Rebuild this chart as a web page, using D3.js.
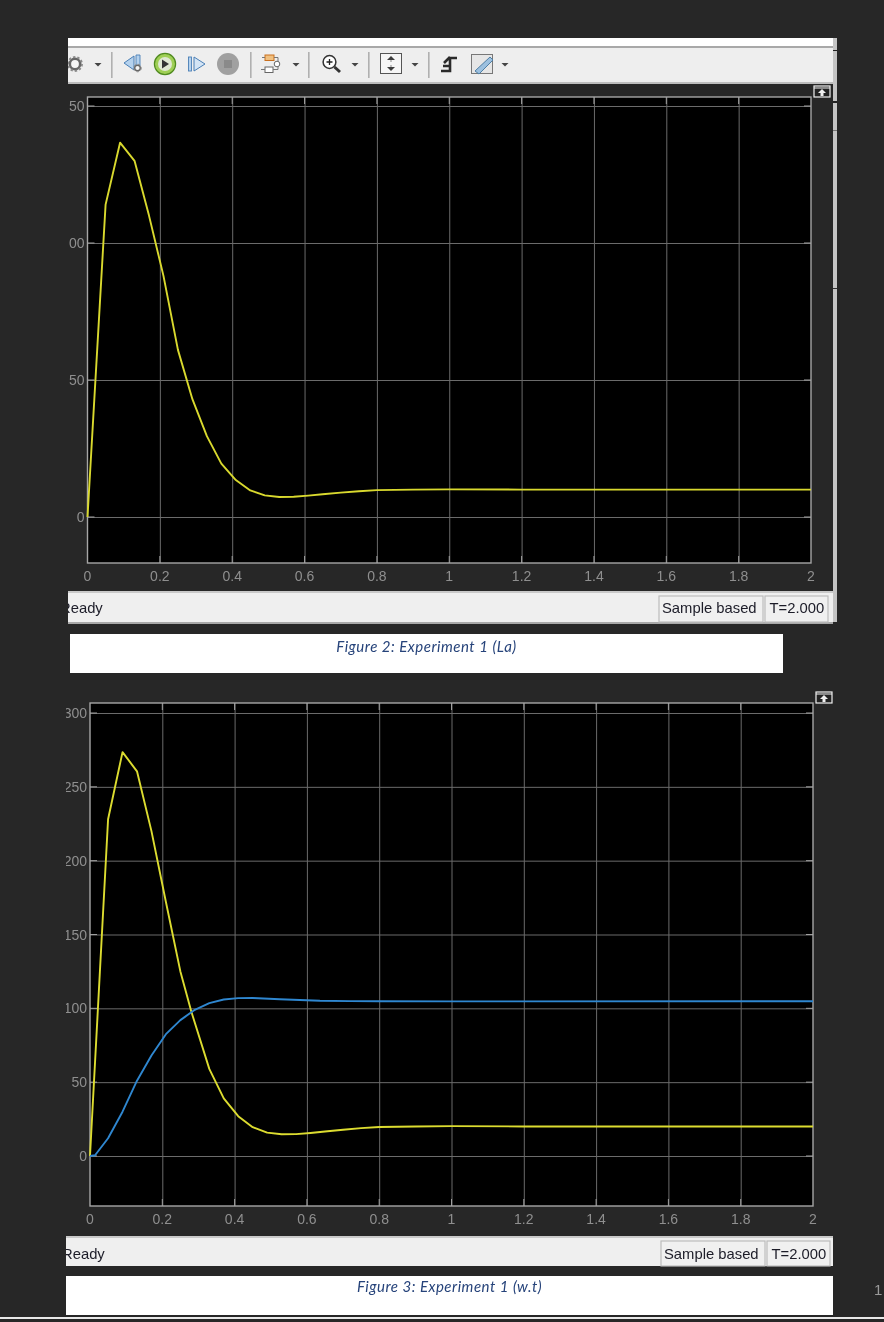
<!DOCTYPE html>
<html><head><meta charset="utf-8">
<script src="https://cdn.jsdelivr.net/npm/d3@7"></script>
<style>html,body{margin:0;padding:0;background:#272727;overflow:hidden}svg{display:block;filter:blur(0.45px)}</style>
</head><body><svg id="c" width="884" height="1322"></svg>
<script>
const xTicks = [0,0.2,0.4,0.6,0.8,1,1.2,1.4,1.6,1.8,2];
const yTicksTop = [0,50,100,150];
const yTicksBottom = [0,50,100,150,200,250,300];
const timeLa = [0,0.05,0.09,0.13,0.17,0.21,0.25,0.29,0.33,0.37,0.41,0.45,0.49,0.53,0.57,0.61,0.65,0.7,0.75,0.8,0.9,1,1.2,2];
const valuesLa = [0,114,136.6,130,110,88,61,43,29.5,19.5,13.5,9.7,7.9,7.3,7.4,7.8,8.3,8.9,9.4,9.8,10,10.1,10,10];
const timeTorque = [0,0.05,0.09,0.13,0.17,0.21,0.25,0.28,0.33,0.37,0.41,0.45,0.49,0.53,0.57,0.61,0.65,0.7,0.75,0.8,0.9,1,1.2,2];
const valuesTorque = [0,228,273.5,260.5,220,172,125,98,59,39,27,19.5,15.8,14.7,14.8,15.6,16.6,17.8,18.9,19.6,20,20.2,20,20];
const timeSpeed = [0,0.014,0.05,0.09,0.13,0.17,0.21,0.25,0.29,0.33,0.37,0.41,0.45,0.525,0.58,0.636,0.72,0.8,1,2];
const valuesSpeed = [0,0.5,12,30,51,68,82.5,92,99,103.5,106,106.9,107,106.2,105.6,105.1,104.9,104.8,104.7,104.8];
const captionTop = "Figure 2: Experiment 1 (La)";
const captionBottom = "Figure 3: Experiment 1 (w.t)";

const svg = d3.select("#c");
const SANS = "Liberation Sans, Arial, sans-serif";
const R = (x,y,w,h,f,g=svg)=>g.append("rect").attr("x",x).attr("y",y).attr("width",w).attr("height",h).attr("fill",f);

R(0,0,884,1322,"#272727");

R(68,38,765,8,"#ffffff");
R(68,46,765,2,"#a8a8a8");
R(68,48,765,34,"#eeeeee");
R(68,82,765,2,"#bdbdbd");
R(833,38,4,584,"#c4c4c4");
R(833,50,4,1,"#222"); R(833,101,4,2,"#222"); R(833,130,4,1,"#777"); R(833,288,4,1,"#333");

const tb = svg.append("g");
[111,250,308,368,428].forEach(x=>R(x,52,1.6,26,"#b0b0b0",tb));
[98,296,355,415,505].forEach(x=>tb.append("path").attr("d",`M${x-3.5},63h7l-3.5,3.5z`).attr("fill","#444"));
function gear(cx,cy,r){
 tb.append("circle").attr("cx",cx).attr("cy",cy).attr("r",r).attr("fill","#f4f4f4").attr("stroke","#666").attr("stroke-width",r*0.5);
 tb.append("circle").attr("cx",cx).attr("cy",cy).attr("r",r*1.35).attr("fill","none").attr("stroke","#8a8a8a").attr("stroke-width",r*0.35).attr("stroke-dasharray","2.4 2");
}
svg.append("defs").append("clipPath").attr("id","tbclip").append("rect").attr("x",68).attr("y",38).attr("width",765).attr("height",46);
tb.attr("clip-path","url(#tbclip)");
gear(75,64,5.2);
tb.append("path").attr("d","M124,63l10,-7v14z").attr("fill","#b5d2ee").attr("stroke","#4a7fb5");
tb.append("path").attr("d","M136,55h4v11h-4z").attr("fill","#b5d2ee").attr("stroke","#4a7fb5").attr("stroke-width",.9);
gear(137.5,68,2.8);
tb.append("circle").attr("cx",165).attr("cy",64).attr("r",10.6).attr("fill","#9fcf55").attr("stroke","#4f8a1f").attr("stroke-width",1.2);
tb.append("circle").attr("cx",165).attr("cy",64).attr("r",7).attr("fill","#dfe8d2");
tb.append("path").attr("d","M162,59.5l7,4.5l-7,4.5z").attr("fill","#333");
tb.append("rect").attr("x",188.5).attr("y",57).attr("width",3).attr("height",14).attr("fill","#b5d2ee").attr("stroke","#4a7fb5").attr("stroke-width",.9);
tb.append("path").attr("d","M194,57l11,7l-11,7z").attr("fill","#d3e4f5").attr("stroke","#4a7fb5");
tb.append("circle").attr("cx",228).attr("cy",64).attr("r",11).attr("fill","#a0a0a0");
tb.append("rect").attr("x",224).attr("y",60).attr("width",8).attr("height",8).attr("fill","#8a8a8a");
tb.append("rect").attr("x",265).attr("y",55).attr("width",9).attr("height",5.5).attr("fill","#f0c080").attr("stroke","#c9701f");
tb.append("rect").attr("x",265).attr("y",67).attr("width",8).attr("height",5.5).attr("fill","#fff").attr("stroke","#666");
tb.append("path").attr("d","M262,57.5h3M274,57.5h4v4M273,69.5h5v-3M261,69.5h4").attr("fill","none").attr("stroke","#777");
tb.append("circle").attr("cx",277).attr("cy",64).attr("r",2.8).attr("fill","#fff").attr("stroke","#666");
tb.append("circle").attr("cx",329.5).attr("cy",62).attr("r",6.4).attr("fill","#fff").attr("stroke","#333").attr("stroke-width",1.5);
tb.append("path").attr("d","M326.5,62h6M329.5,59v6").attr("stroke","#222").attr("stroke-width",1.3);
tb.append("path").attr("d","M334.5,67l5.5,5").attr("stroke","#333").attr("stroke-width",3);
tb.append("rect").attr("x",380.5).attr("y",53.5).attr("width",21).attr("height",20).attr("fill","#f6f6f6").attr("stroke","#555");
tb.append("path").attr("d","M391,56l4,4h-8zM391,71l4,-4h-8z").attr("fill","#3d3d3d");
tb.append("path").attr("d","M391,60v2M391,65v2").attr("stroke","#888");
tb.append("path").attr("d","M441,71h9v-13h7M443,66h7M444,63l6,-6").attr("fill","none").attr("stroke","#2a2a2a").attr("stroke-width",2.6);
tb.append("rect").attr("x",471.5).attr("y",54.5).attr("width",21).attr("height",19).attr("fill","#e6e6e6").attr("stroke","#777");
tb.append("path").attr("d","M475,71l15,-14l3,3l-14,14z").attr("fill","#9cc0df").attr("stroke","#4f7fa5");

function scope(o){
  const g = svg.append("g");
  const cid = "lab"+o.id;
  svg.select("defs").append("clipPath").attr("id",cid).append("rect").attr("x",o.clipX).attr("y",o.top-20).attr("width",800).attr("height",o.bottom-o.top+60);
  const x = d3.scaleLinear().domain([0,2]).range([o.left,o.right]);
  const y = d3.scaleLinear().domain([0,o.yAt]).range([o.zeroY,o.yAtPx]);
  R(o.left,o.top,o.right-o.left,o.bottom-o.top,"#000",g);
  const gridX = d3.axisBottom(x).tickValues(xTicks.slice(1,-1)).tickSize(-(o.bottom-o.top)).tickFormat("");
  const gx = g.append("g").attr("transform",`translate(0,${o.bottom})`).call(gridX);
  gx.select(".domain").remove();
  gx.selectAll("line").attr("stroke","#6b6b6b").attr("stroke-width",1);
  const gridY = d3.axisLeft(y).tickValues(o.yTicks).tickSize(-(o.right-o.left)).tickFormat("");
  const gy = g.append("g").attr("transform",`translate(${o.left},0)`).call(gridY);
  gy.select(".domain").remove();
  gy.selectAll("line").attr("stroke","#6b6b6b").attr("stroke-width",1);
  xTicks.slice(1,-1).forEach(t=>{
    g.append("line").attr("x1",x(t)).attr("x2",x(t)).attr("y1",o.top).attr("y2",o.top+7).attr("stroke","#a0a0a0");
    g.append("line").attr("x1",x(t)).attr("x2",x(t)).attr("y1",o.bottom-7).attr("y2",o.bottom).attr("stroke","#a0a0a0");
  });
  o.yTicks.forEach(t=>{
    g.append("line").attr("x1",o.left).attr("x2",o.left+7).attr("y1",y(t)).attr("y2",y(t)).attr("stroke","#a0a0a0");
    g.append("line").attr("x1",o.right-7).attr("x2",o.right).attr("y1",y(t)).attr("y2",y(t)).attr("stroke","#a0a0a0");
  });
  g.append("rect").attr("x",o.left).attr("y",o.top).attr("width",o.right-o.left).attr("height",o.bottom-o.top)
    .attr("fill","none").attr("stroke","#a6a6a6").attr("stroke-width",1.4);
  const line = d3.line().x(d=>x(d[0])).y(d=>y(d[1]));
  o.series.forEach(s=>{
    g.append("path").attr("d",line(d3.zip(s.t,s.v))).attr("fill","none").attr("stroke",s.color).attr("stroke-width",1.9).attr("stroke-linejoin","round");
  });
  const lab = g.append("g").attr("clip-path",`url(#${cid})`).attr("font-family",SANS).attr("font-size",14).attr("fill","#8f8f8f");
  xTicks.forEach(t=>lab.append("text").attr("x",x(t)).attr("y",o.bottom+18).attr("text-anchor","middle").text(d3.format("~g")(t)));
  o.yTicks.forEach(t=>lab.append("text").attr("x",o.left-3).attr("y",y(t)+5).attr("text-anchor","end").text(t));
  const bx=o.right+3, by=o.top-11;
  g.append("rect").attr("x",bx).attr("y",by).attr("width",16).attr("height",11).attr("fill","#222").attr("stroke","#f0f0f0").attr("stroke-width",1.2);
  g.append("line").attr("x1",bx).attr("x2",bx+16).attr("y1",by+2).attr("y2",by+2).attr("stroke","#f0f0f0");
  g.append("path").attr("d",`M${bx+8},${by+3}l4,4h-2.5v3h-3v-3h-2.5z`).attr("fill","#f0f0f0");
  const sb = g.append("g");
  R(o.sbX,o.sbTop,o.sbW,o.sbH,"#efefef",sb);
  R(o.sbX,o.sbTop-1,o.sbW,2,"#c9c9c9",sb);
  if(o.sbBottomLine) R(o.sbX,o.sbTop+o.sbH,o.sbW,2,"#a8a8a8",sb);
  const boxY=o.sbTop+4, boxH=o.sbH-4;
  sb.append("rect").attr("x",o.box1).attr("y",boxY).attr("width",104).attr("height",boxH).attr("fill","#f0f0f0").attr("stroke","#bcbcbc").attr("stroke-width",1.2);
  sb.append("rect").attr("x",o.box1+106).attr("y",boxY).attr("width",63).attr("height",boxH).attr("fill","#f0f0f0").attr("stroke","#bcbcbc").attr("stroke-width",1.2);
  svg.select("defs").append("clipPath").attr("id",cid+"s").append("rect").attr("x",o.sbX).attr("y",o.sbTop).attr("width",o.sbW).attr("height",o.sbH);
  const st = sb.append("g").attr("clip-path",`url(#${cid}s)`).attr("font-family",SANS).attr("font-size",14.8).attr("fill","#1c1c28");
  st.append("text").attr("x",o.readyX).attr("y",o.sbBase).text("Ready");
  st.append("text").attr("x",o.box1+3).attr("y",o.sbBase).text("Sample based");
  st.append("text").attr("x",o.box1+110.5).attr("y",o.sbBase).text("T=2.000");
  R(o.capX,o.capTop,o.capW,39,"#fff",g);
  g.append("text").attr("x",o.capText).attr("y",o.capBase).attr("text-anchor","middle")
    .attr("font-family","Lato, 'Open Sans', sans-serif").attr("font-style","italic").attr("font-size",15).attr("letter-spacing",0.5).attr("fill","#26437a").text(o.caption);
}

scope({id:1,left:87.5,right:811,top:97,bottom:563,zeroY:517,yAt:150,yAtPx:106,clipX:69,yTicks:yTicksTop,
  series:[{t:timeLa,v:valuesLa,color:"#d9d92e"}],
  sbX:68,sbTop:592,sbW:765,sbH:30,sbBottomLine:true,box1:659,readyX:60,sbBase:612.5,
  capX:70,capTop:634,capW:713,capText:426.5,capBase:652,caption:captionTop});
scope({id:2,left:90,right:813,top:703,bottom:1206,zeroY:1156,yAt:300,yAtPx:713,clipX:66,yTicks:yTicksBottom,
  series:[{t:timeTorque,v:valuesTorque,color:"#dcdc30"},{t:timeSpeed,v:valuesSpeed,color:"#2f87d0"}],
  sbX:66,sbTop:1237,sbW:767,sbH:29,sbBottomLine:false,box1:661,readyX:62,sbBase:1258.5,
  capX:66,capTop:1276,capW:767,capText:449.5,capBase:1292,caption:captionBottom});

R(0,1317,884,2,"#e8e8e8");
svg.append("text").attr("x",874).attr("y",1295).attr("font-family",SANS).attr("font-size",15).attr("fill","#9a9a9a").text("1");
</script></body></html>
